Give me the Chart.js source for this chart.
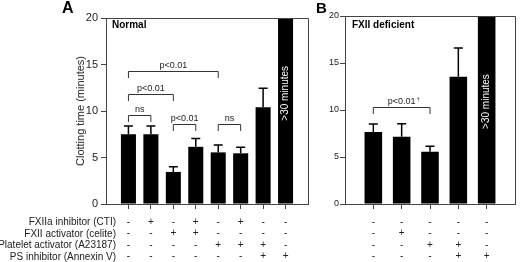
<!DOCTYPE html>
<html>
<head>
<meta charset="utf-8">
<script src="https://cdn.jsdelivr.net/npm/chart.js@4.4.0/dist/chart.umd.min.js"></script>
<style>
  html, body { margin: 0; padding: 0; background: #fff; }
  body { width: 520px; height: 262px; position: relative; overflow: hidden;
         font-family: "Liberation Sans", Arial, sans-serif; color: #222; }
  canvas { position: absolute; top: 0; }
  .lbl { position: absolute; white-space: nowrap; }
</style>
</head>
<body>
<canvas id="chartA" width="320" height="262" style="left:0"></canvas>
<canvas id="chartB" width="200" height="262" style="left:320px"></canvas>

<div class="lbl" style="left:62px;top:-1px;font:bold 16px 'Liberation Sans',Arial,sans-serif;color:#000">A</div>
<div class="lbl" style="left:316px;top:-1px;font:bold 15px 'Liberation Sans',Arial,sans-serif;color:#000">B</div>
<div class="lbl" style="left:112px;top:19px;font:bold 10px 'Liberation Sans',Arial,sans-serif;color:#000">Normal</div>
<div class="lbl" style="left:352px;top:19px;font:bold 10px 'Liberation Sans',Arial,sans-serif;color:#000">FXII deficient</div>
<div class="lbl" style="left:80px;top:111px;font-size:11px;transform:translate(-50%,-50%) rotate(-90deg)">Clotting time (minutes)</div>
<div id="rowLabels" class="lbl" style="right:404px;top:216px;font-size:10px;line-height:11.5px;text-align:right"></div>

<script>
// row labels for the condition table under the bars
const rowLabels = ['FXIIa inhibitor (CTI)', 'FXII activator (celite)', 'Platelet activator (A23187)', 'PS inhibitor (Annexin V)'];

// Panel A: normal plasma
const groupsA = [1, 2, 3, 4, 5, 6, 7, 8];
const meansA = [7.5, 7.5, 3.45, 6.15, 5.55, 5.45, 10.4, 30];
const errA = [0.9, 0.9, 0.55, 0.9, 0.8, 0.65, 2.05, 0];
const ctiA = ['-', '+', '-', '+', '-', '+', '-', '-'];
const celiteA = ['-', '-', '+', '+', '-', '-', '-', '-'];
const a23187A = ['-', '-', '-', '-', '+', '+', '+', '-'];
const annexinA = ['-', '-', '-', '-', '-', '-', '+', '+'];
const bracketsA = [
  { from: 1, to: 2, y: 9.55, text: 'ns' },
  { from: 1, to: 3, y: 11.85, text: 'p<0.01' },
  { from: 1, to: 5, y: 14.3, text: 'p<0.01' },
  { from: 3, to: 4, y: 8.6, text: 'p<0.01' },
  { from: 5, to: 6, y: 8.6, text: 'ns' }
];

// Panel B: FXII deficient plasma
const groupsB = [1, 2, 3, 4, 5];
const meansB = [7.65, 7.15, 5.55, 13.55, 30];
const errB = [0.85, 1.4, 0.6, 3.05, 0];
const ctiB = ['-', '-', '-', '-', '-'];
const celiteB = ['-', '+', '-', '-', '-'];
const a23187B = ['-', '-', '+', '+', '-'];
const annexinB = ['-', '-', '-', '+', '+'];
const bracketsB = [
  { from: 1, to: 3, y: 10.3, text: 'p<0.01', mark: '\u2020' }
];

const yTicks = [0, 5, 10, 15, 20];
const overLabel = '>30 minutes';

document.getElementById('rowLabels').innerHTML = rowLabels.join('<br>');

const AXIS = '#444';
const FONT = "'Liberation Sans', Arial, sans-serif";

// error bars, significance brackets, frame and the ">30 minutes" tag
function overlay(groups, means, errs, brackets, overY) {
  return {
    id: 'overlay',
    afterDatasetsDraw(chart) {
      const { ctx, chartArea, scales: { x, y } } = chart;
      ctx.save();

      // top and right side of the box
      ctx.strokeStyle = AXIS;
      ctx.lineWidth = 1;
      ctx.beginPath();
      ctx.moveTo(chartArea.left, Math.round(chartArea.top) + 0.5);
      ctx.lineTo(Math.round(chartArea.right) + 0.5, Math.round(chartArea.top) + 0.5);
      ctx.lineTo(Math.round(chartArea.right) + 0.5, chartArea.bottom);
      ctx.stroke();

      ctx.strokeStyle = '#000';
      ctx.lineWidth = 1.5;
      groups.forEach((g, i) => {
        if (!errs[i]) return;
        const px = x.getPixelForValue(g);
        const y0 = y.getPixelForValue(means[i]);
        const y1 = y.getPixelForValue(means[i] + errs[i]);
        ctx.beginPath();
        ctx.moveTo(px, y0);
        ctx.lineTo(px, y1);
        ctx.moveTo(px - 4.5, y1);
        ctx.lineTo(px + 4.5, y1);
        ctx.stroke();
      });

      ctx.strokeStyle = '#333';
      ctx.lineWidth = 1;
      ctx.fillStyle = '#222';
      ctx.font = '9px ' + FONT;
      ctx.textAlign = 'center';
      ctx.textBaseline = 'alphabetic';
      brackets.forEach(b => {
        const x0 = x.getPixelForValue(b.from);
        const x1 = x.getPixelForValue(b.to);
        const py = Math.round(y.getPixelForValue(b.y)) + 0.5;
        ctx.beginPath();
        ctx.moveTo(x0, py + 6.5);
        ctx.lineTo(x0, py);
        ctx.lineTo(x1, py);
        ctx.lineTo(x1, py + 6.5);
        ctx.stroke();
        const cx = (x0 + x1) / 2;
        ctx.fillText(b.text, cx, py - 4);
        if (b.mark) {
          const w = ctx.measureText(b.text).width;
          ctx.font = '6px ' + FONT;
          ctx.textAlign = 'left';
          ctx.fillText(b.mark, cx + w / 2 + 1, py - 7);
          ctx.font = '9px ' + FONT;
          ctx.textAlign = 'center';
        }
      });

      // rotated white label inside the overflowing bar
      const last = groups.length - 1;
      ctx.fillStyle = '#fff';
      ctx.font = '10px ' + FONT;
      ctx.translate(x.getPixelForValue(groups[last]), y.getPixelForValue(overY));
      ctx.rotate(-Math.PI / 2);
      ctx.textAlign = 'center';
      ctx.textBaseline = 'middle';
      ctx.fillText(overLabel, 0, 0);
      ctx.restore();
    }
  };
}

function makePanel(id, groups, means, errs, rows, brackets, opts) {
  const ctx = document.getElementById(id).getContext('2d');
  return new Chart(ctx, {
    type: 'bar',
    data: {
      datasets: [{
        data: groups.map((g, i) => ({ x: g, y: means[i] })),
        backgroundColor: '#000',
        borderWidth: 0,
        barPercentage: opts.barPct,
        categoryPercentage: 1
      }]
    },
    options: {
      responsive: false,
      animation: false,
      layout: { padding: { left: 0, right: opts.padRight, top: opts.padTop, bottom: 0 } },
      plugins: { legend: { display: false }, tooltip: { enabled: false } },
      scales: {
        x: {
          type: 'linear',
          min: 0,
          max: groups.length + 1,
          offset: false,
          grid: { drawOnChartArea: false, drawTicks: true, tickLength: 5, color: AXIS, offset: false },
          border: { color: AXIS, width: 1 },
          afterBuildTicks: s => { s.ticks = groups.map(v => ({ value: v })); },
          afterFit: s => { s.height = 58; },
          ticks: {
            autoSkip: false,
            maxRotation: 0,
            padding: 7,
            color: '#222',
            font: { family: FONT, size: 10, lineHeight: 1.15 },
            callback: v => {
              const i = groups.indexOf(v);
              return i < 0 ? '' : rows.map(r => r[i]);
            }
          }
        },
        y: {
          min: 0,
          max: 20,
          afterBuildTicks: s => { s.ticks = yTicks.map(v => ({ value: v })); },
          afterFit: s => { s.width = opts.axisWidth; },
          grid: { drawOnChartArea: false, drawTicks: true, tickLength: 5, color: AXIS },
          border: { color: AXIS, width: 1 },
          ticks: { padding: opts.tickPad, color: '#222', font: { family: FONT, size: opts.tickSize } }
        }
      }
    },
    plugins: [overlay(groups, means, errs, brackets, opts.overY)]
  });
}

makePanel('chartA', groupsA, meansA, errA, [ctiA, celiteA, a23187A, annexinA], bracketsA,
  { barPct: 0.67, padRight: 12, padTop: 18, axisWidth: 106, overY: 11.9, tickSize: 11, tickPad: 3 });
makePanel('chartB', groupsB, meansB, errB, [ctiB, celiteB, a23187B, annexinB], bracketsB,
  { barPct: 0.62, padRight: 5, padTop: 16, axisWidth: 25, overY: 10.9, tickSize: 9, tickPad: 1 });
</script>
</body>
</html>
